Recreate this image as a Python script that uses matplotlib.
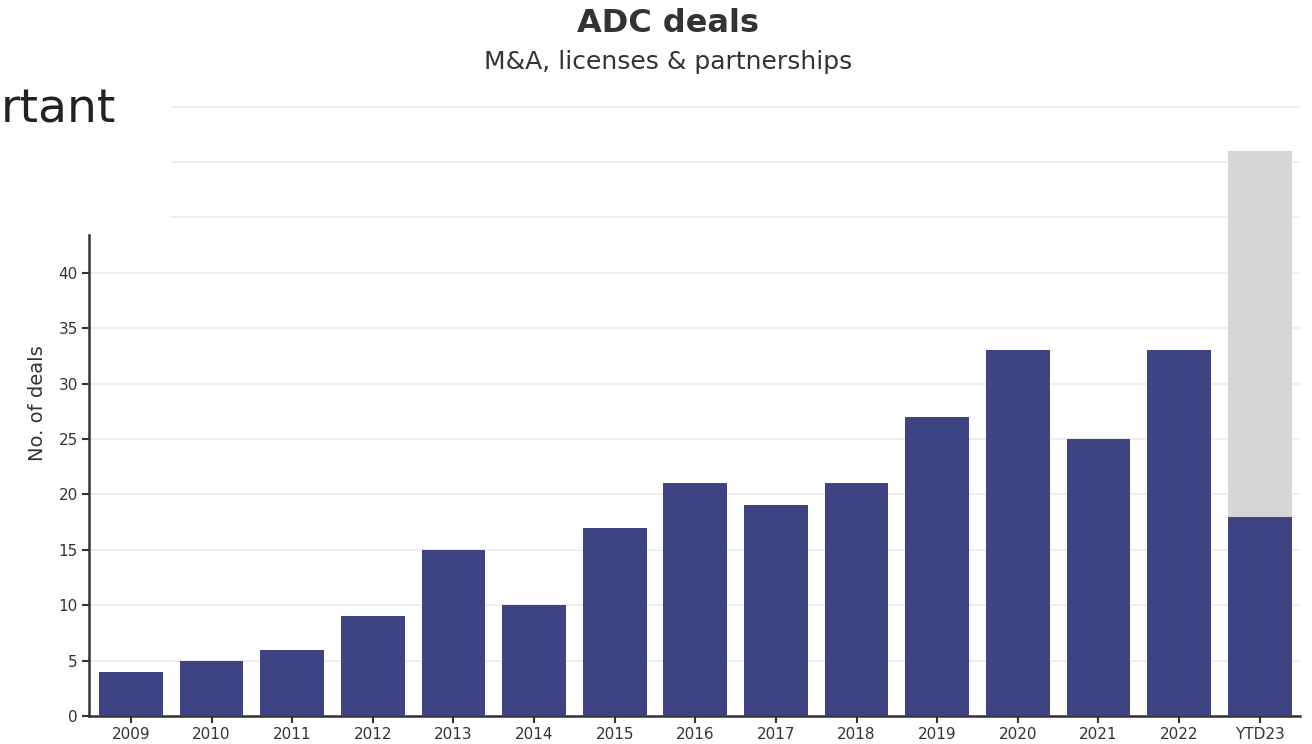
import matplotlib
matplotlib.use("Agg")
import matplotlib.pyplot as plt

years = ["2009", "2010", "2011", "2012", "2013", "2014", "2015", "2016",
         "2017", "2018", "2019", "2020", "2021", "2022", "YTD23"]
deals = [4, 5, 6, 9, 15, 10, 17, 21, 19, 21, 27, 33, 25, 33, 18]
projected_total = 51  # grey bar behind YTD23

navy = "#3d4383"
grey = "#d6d6d6"
txt = "#333333"

plt.rcParams['font.family'] = ['DejaVu Sans']

fig = plt.figure(figsize=(13.12, 7.44), dpi=100)
ax = fig.add_axes([89/1312, 28/744, (1300-89)/1312, (716-90)/744])

x = list(range(len(years)))
ax.bar(x[-1], projected_total, width=0.79, color=grey, zorder=2)
ax.bar(x, deals, width=0.79, color=navy, zorder=3)

ax.set_xlim(-0.52, len(years) - 0.5)
ax.set_ylim(0, 56.5)

yt = [0, 5, 10, 15, 20, 25, 30, 35, 40]
ax.set_yticks(yt)
ax.set_yticklabels([str(v) for v in yt])
for v in yt:
    ax.axhline(v, color="#ebebeb", lw=1.2, zorder=1)
xfrac = (172 - 89) / (1300 - 89)
for v in [45, 50, 55]:
    ax.axhline(v, xmin=xfrac, color="#ebebeb", lw=1.2, zorder=1)

ax.set_xticks(x)
ax.set_xticklabels(years)
ax.tick_params(axis="both", colors=txt, labelsize=11, length=5, width=1.5)
ax.tick_params(axis="y", pad=3)
ax.tick_params(axis="x", pad=3)

for s in ["top", "right"]:
    ax.spines[s].set_visible(False)
ax.spines["left"].set_bounds(0, 43.4)
for s in ["left", "bottom"]:
    ax.spines[s].set_color(txt)
    ax.spines[s].set_linewidth(1.8)

ax.set_ylabel("No. of deals", color=txt, fontsize=14, labelpad=8)

fig.text(668/1312, 1 - 23/744, "ADC deals", ha="center", va="center",
         fontsize=23, fontweight="bold", color=txt)
fig.text(668/1312, 1 - 62/744, "M&A, licenses & partnerships", ha="center",
         va="center", fontsize=18, color=txt)
fig.text(116/1312, 1 - 110/744, "rtant", ha="right", va="center",
         fontsize=34, color="#222222")

fig.savefig("out.png", dpi=100, facecolor="white")
